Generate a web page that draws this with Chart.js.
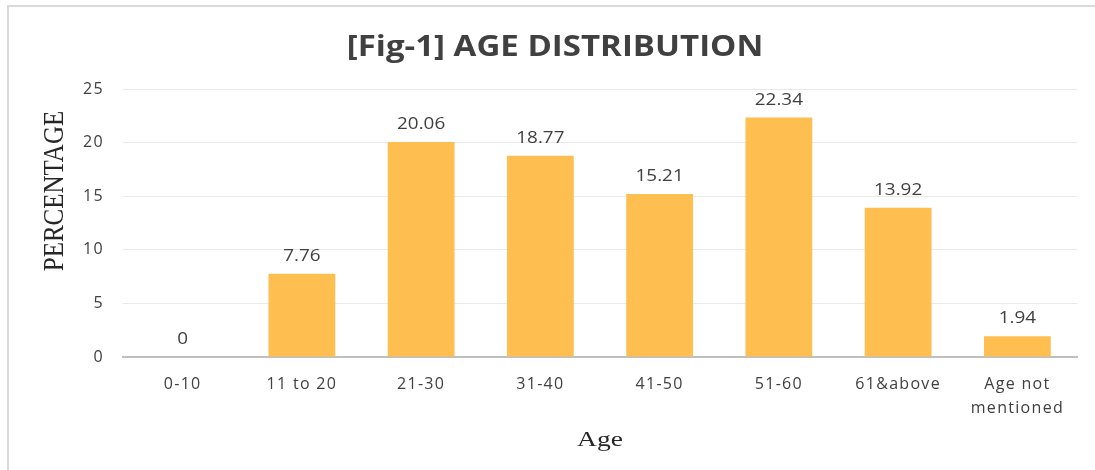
<!DOCTYPE html>
<html>
<head>
<meta charset="utf-8">
<script src="https://cdn.jsdelivr.net/npm/chart.js@4"></script>
<style>
  html, body { margin: 0; padding: 0; background: #ffffff; overflow: hidden; }
  #wrap { position: relative; width: 1095px; height: 470px; }
  #frame { position: absolute; left: 7px; top: 5px; width: 1200px; height: 600px;
           border-top: 2px solid #d9d9d9; border-left: 2px solid #d9d9d9; }
  canvas { position: absolute; left: 0; top: 0; }
</style>
</head>
<body>
<div id="wrap">
  <div id="frame"></div>
  <canvas id="c" width="1095" height="470"></canvas>
</div>
<script>
const categories = ["0-10", "11 to 20", "21-30", "31-40", "41-50", "51-60", "61&above", ["Age not", "mentioned"]];
const percentages = [0, 7.76, 20.06, 18.77, 15.21, 22.34, 13.92, 1.94];
const yTicks = [0, 5, 10, 15, 20, 25];
const chartTitle = "[Fig-1] AGE DISTRIBUTION";
const xTitle = "Age";
const yTitle = "PERCENTAGE";

const textColor = "#404040";
const barColor = "rgb(255,191,80)";
const stretch = 1.18;

function wideText(ctx, text, x, y) {
  ctx.save();
  ctx.translate(x, y);
  ctx.scale(stretch, 1);
  ctx.fillText(text, 0, 0);
  ctx.restore();
}

const customText = {
  id: "customText",
  beforeDraw(chart) {
    chart.ctx.letterSpacing = "1.3px";
  },
  afterDatasetsDraw(chart) {
    const ctx = chart.ctx;
    const area = chart.chartArea;
    const meta = chart.getDatasetMeta(0);
    ctx.save();
    ctx.letterSpacing = "0px";
    ctx.font = "16px 'Open Sans'";
    ctx.fillStyle = textColor;
    ctx.textAlign = "center";
    ctx.textBaseline = "alphabetic";
    meta.data.forEach((bar, i) => {
      wideText(ctx, String(percentages[i]), bar.x, bar.y - 13);
    });
    ctx.font = "bold 28px 'Open Sans'";
    wideText(ctx, chartTitle, 555, 56);
    ctx.font = "22px 'Liberation Serif'";
    ctx.fillStyle = "#262626";
    ctx.save();
    ctx.translate((area.left + area.right) / 2, 446);
    ctx.scale(1.25, 1);
    ctx.fillText(xTitle, 0, 0);
    ctx.restore();
    ctx.translate(63, 191);
    ctx.rotate(-Math.PI / 2);
    ctx.scale(1, 1.2);
    ctx.font = "25px 'Liberation Serif'";
    ctx.fillText(yTitle, 0, 0);
    ctx.restore();
  }
};

new Chart(document.getElementById("c"), {
  type: "bar",
  data: {
    labels: categories,
    datasets: [{
      data: percentages,
      backgroundColor: barColor,
      barPercentage: 0.56,
      categoryPercentage: 1.0
    }]
  },
  options: {
    responsive: false,
    animation: false,
    devicePixelRatio: 1,
    layout: { padding: { top: 89, right: 18, left: 0, bottom: 0 } },
    plugins: { legend: { display: false }, tooltip: { enabled: false }, title: { display: false } },
    scales: {
      x: {
        grid: { display: false },
        border: { display: true, color: "#bfbfbf", width: 2 },
        ticks: { color: textColor, font: { family: "'Open Sans'", size: 16, lineHeight: 1.5 }, padding: 7, maxRotation: 0, autoSkip: false },
        afterFit(scale) { scale.height = 113; }
      },
      y: {
        min: 0, max: 25,
        afterBuildTicks(scale) { scale.ticks = yTicks.map(v => ({ value: v })); },
        grid: { color: "#e9e9e9", lineWidth: 1, drawTicks: false },
        border: { display: false },
        ticks: { color: textColor, font: { family: "'Open Sans'", size: 16 }, padding: 19 },
        afterFit(scale) { scale.width = 123; }
      }
    }
  },
  plugins: [customText]
});
</script>
</body>
</html>
